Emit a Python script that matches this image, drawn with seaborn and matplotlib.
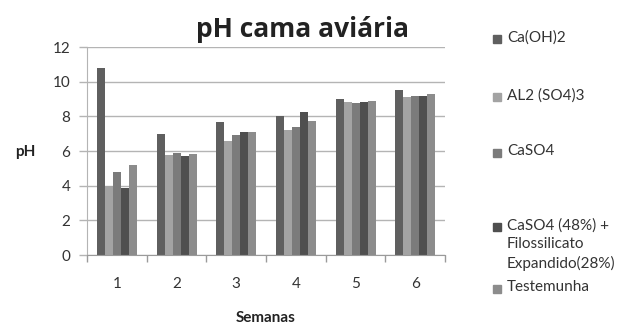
import numpy as np
import pandas as pd
import seaborn as sns
import matplotlib.pyplot as plt
from matplotlib.patches import Rectangle

# Data
semanas = ['1', '2', '3', '4', '5', '6']
ca_oh2 = [10.8, 7.0, 7.7, 8.0, 9.0, 9.5]
al2_so4 = [4.0, 5.75, 6.6, 7.2, 8.85, 9.15]
caso4 = [4.8, 5.9, 6.95, 7.4, 8.75, 9.2]
caso4_filo = [3.9, 5.7, 7.1, 8.25, 8.85, 9.2]
testemunha = [5.2, 5.85, 7.1, 7.75, 8.9, 9.3]

series_names = ['Ca(OH)2', 'AL2 (SO4)3', 'CaSO4',
                'CaSO4 (48%) +\nFilossilicato\nExpandido(28%)', 'Testemunha']
colors = ['#5f5f5f', '#a3a3a3', '#7b7b7b', '#4f4f4f', '#8c8c8c']

# Long format table for seaborn
data = pd.DataFrame({
    'Semanas': semanas * 5,
    'pH': ca_oh2 + al2_so4 + caso4 + caso4_filo + testemunha,
    'Serie': np.repeat(series_names, len(semanas)),
})

sns.set_style('white')
plt.rcParams['font.family'] = ['Lato', 'DejaVu Sans']

fig = plt.figure(figsize=(6.26, 3.25), dpi=100)
ax = fig.add_axes([0.139, 0.215, 0.572, 0.64])

ax.set_axisbelow(True)
ax.yaxis.grid(True, color='#b4b4b4', linewidth=1)

sns.barplot(data=data, x='Semanas', y='pH', hue='Serie', hue_order=series_names,
            palette=colors, width=0.67, gap=0, saturation=1, ax=ax, legend=False,
            edgecolor='none', linewidth=0)

ax.set_ylim(0, 12)
ax.set_yticks(range(0, 13, 2))
ax.set_xlim(-0.5, 5.5)

# tick marks between groups, labels at group centres
ax.set_xticks(np.arange(-0.5, 6, 1), minor=True)
ax.tick_params(axis='x', which='major', length=0, labelsize=11, colors='#333333', pad=16)
ax.tick_params(axis='x', which='minor', length=5, color='#9a9a9a', width=1, bottom=True)
ax.tick_params(axis='y', length=6, color='#b4b4b4', width=1, labelsize=11, colors='#333333',
               left=True, pad=6)

for side in ['top', 'right']:
    ax.spines[side].set_visible(False)
ax.spines['left'].set_color('#b4b4b4')
ax.spines['bottom'].set_color('#9a9a9a')

ax.set_xlabel('')
ax.set_ylabel('')
fig.text(25 / 626, 1 - 152 / 325, 'pH', fontsize=11, fontweight='bold', ha='center',
         va='center', color='#222222')
fig.text(266 / 626, 3 / 325, 'Semanas', fontsize=11, fontweight='bold', ha='center',
         va='baseline', color='#222222')
fig.text(302 / 626, 1 - 37 / 325, 'pH cama aviária', fontsize=19, fontweight='bold',
         ha='center', va='baseline', color='#222222', family=['Open Sans', 'DejaVu Sans'])

# Excel-like legend on the right
legend_y = [39, 97, 153, 227, 289]
for name, col, y in zip(series_names, colors, legend_y):
    fy = 1 - y / 325
    fig.patches.append(Rectangle((493 / 626, fy - 3.75 / 325), 7.5 / 626, 7.5 / 325,
                                 transform=fig.transFigure, color=col))
    fig.text(507 / 626, fy + 9 / 325, name, fontsize=11, va='top', ha='left',
             color='#333333', linespacing=1.4)

fig.savefig('out.png', dpi=100)
